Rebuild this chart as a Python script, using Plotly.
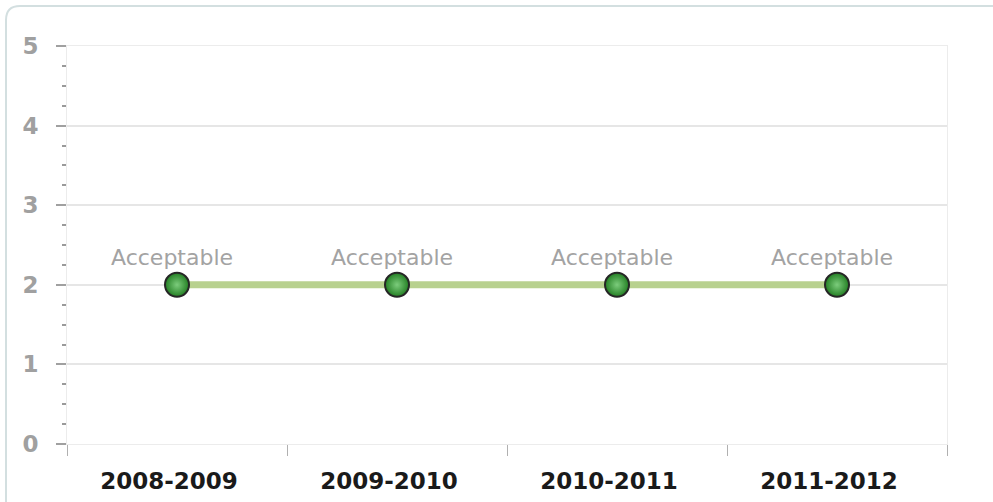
import plotly.graph_objects as go

categories = ["2008-2009", "2009-2010", "2010-2011", "2011-2012"]
values = [2, 2, 2, 2]
labels = ["Acceptable", "Acceptable", "Acceptable", "Acceptable"]
y_ticks = [0, 1, 2, 3, 4, 5]

W, H = 993, 502
ml, mr, mt, mb = 67, 46, 46, 58
pw, ph = W - ml - mr, H - mt - mb

fig = go.Figure()
fig.add_trace(go.Scatter(
    x=categories, y=values, mode="lines+markers",
    line=dict(color="#b8d18f", width=7),
    marker=dict(size=24, color="#237f23",
                gradient=dict(type="radial", color="#7ccc7c"),
                line=dict(color="#262626", width=2)),
    cliponaxis=False, hoverinfo="skip",
))

for c, v, t in zip(categories, values, labels):
    fig.add_annotation(x=c, y=v, text=t, showarrow=False,
                       xshift=-5, yshift=27,
                       font=dict(family="DejaVu Sans", size=22, color="#a3a3a3"))

# container border (rounded top-left corner), in paper coords
def px_x(p):
    return (p - ml) / pw
def px_y(p):
    return (H - mb - p) / ph
r = 14
x0, y0 = 6, 6
path = (f"M {px_x(x0)} {px_y(H + 20)} L {px_x(x0)} {px_y(y0 + r)} "
        f"Q {px_x(x0)} {px_y(y0)} {px_x(x0 + r)} {px_y(y0)} "
        f"L {px_x(W + 20)} {px_y(y0)}")
fig.add_shape(type="path", path=path, xref="paper", yref="paper",
              line=dict(color="#d3dfe0", width=2), layer="below")

fig.update_layout(
    width=W, height=H,
    margin=dict(l=ml, r=mr, t=mt, b=mb, autoexpand=False),
    paper_bgcolor="white", plot_bgcolor="white",
    showlegend=False,
    xaxis=dict(
        type="category", range=[-0.5, 3.5], automargin=False,
        tickson="boundaries", ticks="outside", ticklen=11, tickwidth=1,
        tickcolor="#b0b0b0",
        showgrid=False, showline=True, linecolor="#ececec", mirror=True,
        tickfont=dict(family="DejaVu Sans", size=23, color="#1a1a1a", weight="bold"),
        ticklabelstandoff=16, ticklabelshift=-8,
        zeroline=False,
    ),
    yaxis=dict(
        range=[0, 5], tickvals=y_ticks, ticktext=[str(v) for v in y_ticks],
        automargin=False,
        ticks="outside", ticklen=10, tickwidth=1.5, tickcolor="#a0a0a0",
        showgrid=True, gridcolor="#e6e6e6", gridwidth=1.5,
        showline=True, linecolor="#ececec", mirror=True,
        zeroline=False,
        tickfont=dict(family="DejaVu Sans", size=23, color="#a0a0a0", weight="bold"),
        ticklabelstandoff=13,
        minor=dict(dtick=0.25, ticks="outside", ticklen=4, tickcolor="#9a9a9a",
                   tickwidth=1.5, showgrid=False),
    ),
)

fig.write_html("out.html")
